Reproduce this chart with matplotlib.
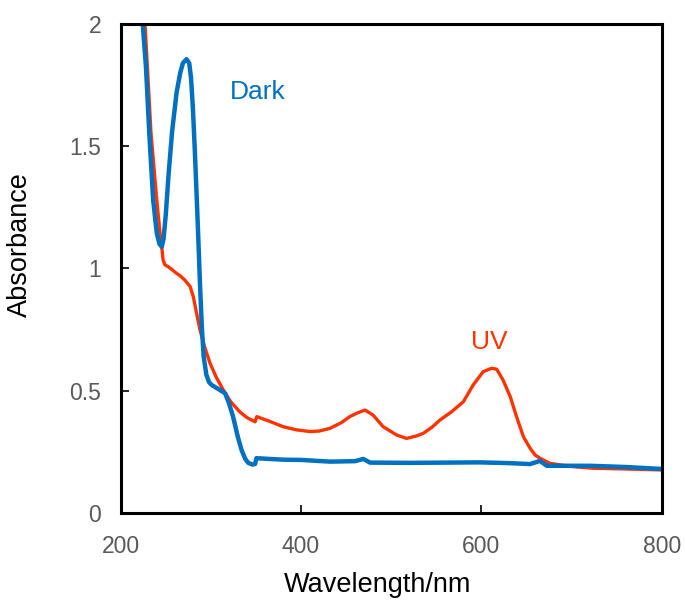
import matplotlib
matplotlib.use("Agg")
import matplotlib.pyplot as plt

plt.rcParams["font.family"] = ["Liberation Sans", "DejaVu Sans"]

# Dark spectrum (blue)
dark_wl = [220, 224, 228, 231.7, 236, 240, 243, 245.5, 247.5, 250, 253, 257, 262, 266, 269, 273,
           276, 278, 280, 282, 284, 286, 288, 290, 292, 295, 298, 301,
           306.5, 315.7, 320, 324.6, 330, 334, 338, 341.5, 346, 349, 350.5, 380, 400,
           432, 460, 469, 476.5, 520, 560, 598.6, 630, 654, 665, 672.5, 720.6, 760, 800]
dark_abs = [2.40, 2.02, 1.825, 1.553, 1.28, 1.145, 1.10, 1.089, 1.12, 1.22, 1.38, 1.56, 1.72, 1.80, 1.84, 1.856,
            1.84, 1.78, 1.66, 1.50, 1.32, 1.13, 0.93, 0.76, 0.64, 0.565, 0.535, 0.523,
            0.511, 0.49, 0.45, 0.394, 0.31, 0.258, 0.222, 0.205, 0.198, 0.20, 0.224, 0.218, 0.217,
            0.21, 0.212, 0.221, 0.206, 0.205, 0.206, 0.207, 0.204, 0.20, 0.213, 0.193, 0.193, 0.188, 0.18]

# UV-irradiated spectrum (red)
uv_wl = [221, 227, 233.6, 240, 243.6, 245.5, 247, 249, 252.8, 257, 262, 266, 271, 274, 277, 280.5,
         284, 288, 293, 299, 306, 313.8, 322, 332, 340, 349, 350.9, 365, 380, 395, 410, 420,
         432, 445, 454, 461.8, 471, 480, 491, 506, 517, 528, 535.7, 545, 554, 567, 580,
         591, 602, 611.5, 617, 624, 632, 639, 646.6, 654, 659.6, 665, 676, 700, 724, 760, 802]
uv_abs = [2.40, 2.00, 1.553, 1.28, 1.145, 1.089, 1.035, 1.015, 1.007, 0.995, 0.98, 0.97, 0.953, 0.94, 0.926, 0.885,
          0.82, 0.748, 0.68, 0.613, 0.555, 0.503, 0.455, 0.414, 0.39, 0.373, 0.394, 0.375, 0.353, 0.34, 0.333, 0.335,
          0.346, 0.37, 0.394, 0.408, 0.421, 0.40, 0.353, 0.319, 0.305, 0.315, 0.326, 0.35, 0.380, 0.414, 0.455,
          0.524, 0.578, 0.592, 0.588, 0.544, 0.476, 0.394, 0.312, 0.265, 0.237, 0.224, 0.203, 0.19, 0.183, 0.18, 0.176]

fig = plt.figure(figsize=(6.85, 6.04), dpi=100)
ax = fig.add_axes([0.1762, 0.1507, 0.7898, 0.8096])

ax.plot(uv_wl, uv_abs, color="#FF3300", lw=2.4, solid_joinstyle="round", solid_capstyle="round")
ax.plot(dark_wl, dark_abs, color="#0070C0", lw=3.2, solid_joinstyle="round", solid_capstyle="round")

ax.set_xlim(200, 800)
ax.set_ylim(0, 2)
ax.set_xticks([200, 400, 600, 800])
ax.set_yticks([0, 0.5, 1, 1.5, 2])
ax.set_yticklabels(["0", "0.5", "1", "1.5", "2"])
ax.tick_params(direction="in", length=6, width=1.2, labelsize=16.5, labelcolor="#595959", pad=14)
ax.tick_params(axis="x", pad=16)
for s in ax.spines.values():
    s.set_linewidth(2.2)

ax.set_xlabel("Wavelength/nm", fontsize=19.5)
ax.set_ylabel("Absorbance", fontsize=19.5)
ax.xaxis.set_label_coords(0.474, -0.12)
ax.yaxis.set_label_coords(-0.162, 0.549)

ax.text(321, 1.72, "Dark", color="#0070C0", fontsize=19, va="center", ha="left")
ax.text(588, 0.70, "UV", color="#FF3300", fontsize=19, va="center", ha="left")

fig.savefig("out.png", dpi=100)
